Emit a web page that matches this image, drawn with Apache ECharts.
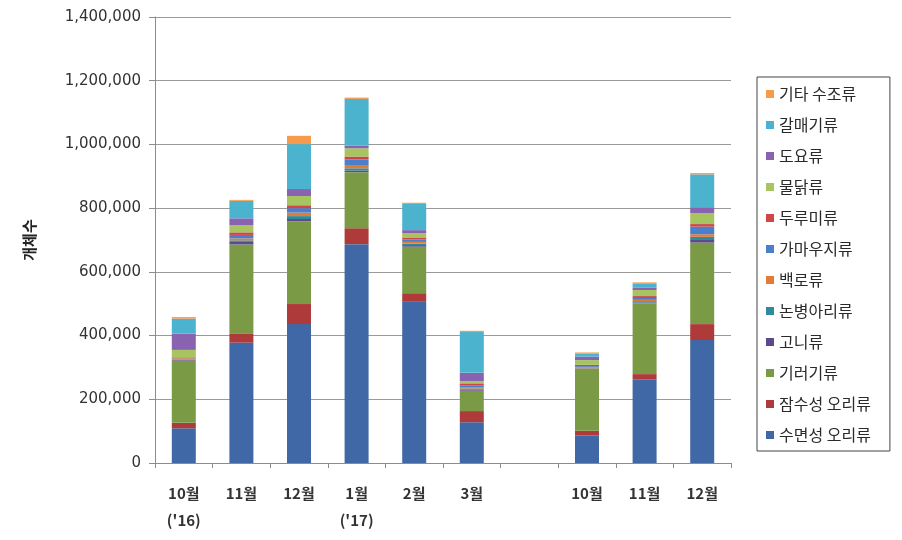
<!DOCTYPE html>
<html>
<head>
<meta charset="utf-8">
<script src="https://cdn.jsdelivr.net/npm/echarts@6/dist/echarts.min.js"></script>
<style>
  html, body { margin: 0; padding: 0; background: #fff; }
  #chart { width: 902px; height: 540px; }
</style>
</head>
<body>
<div id="chart"></div>
<script>
// 월별 물새 개체수 — 누적 막대
const categories = ["10월\n('16)", '11월', '12월', "1월\n('17)", '2월', '3월', '', '10월', '11월', '12월']
const yTicks = [0, 200000, 400000, 600000, 800000, 1000000, 1200000, 1400000]

// 아래에서 위로 쌓이는 순서
const seriesNames = ['수면성 오리류', '잠수성 오리류', '기러기류', '고니류', '논병아리류', '백로류',
  '가마우지류', '두루미류', '물닭류', '도요류', '갈매기류', '기타 수조류']

const dabbling  = [109000, 378000, 436000, 687000, 506000, 128000, '-', 86000, 263000, 386000]
const diving    = [17000, 29000, 63000, 50000, 27000, 35000, '-', 15000, 16000, 50000]
const geese     = [195000, 279000, 260000, 176000, 146000, 64000, '-', 191000, 222000, 256000]
const swans     = [2000, 8000, 7000, 5000, 5000, 3000, '-', 2000, 3000, 8000]
const grebes    = [2000, 5000, 9000, 7000, 5000, 4000, '-', 3000, 4000, 10000]
const herons    = [4000, 6000, 11000, 8000, 5000, 4000, '-', 3000, 4000, 8000]
const cormorants = [2000, 11000, 14000, 20000, 8000, 6000, '-', 4000, 6000, 24000]
const cranes    = [1000, 8000, 9000, 9000, 6000, 6000, '-', 4000, 6000, 8000]
const coots     = [23000, 22000, 29000, 26000, 13000, 7000, '-', 15000, 19000, 34000]
const shorebirds = [51000, 22000, 22000, 8000, 10000, 26000, '-', 11000, 8000, 19000]
const gulls     = [47000, 55000, 141000, 147000, 82000, 128000, '-', 10000, 13000, 103000]
const others    = [5000, 3000, 26000, 4000, 4000, 4000, '-', 3000, 3000, 4000]

const seriesValues = [dabbling, diving, geese, swans, grebes, herons,
  cormorants, cranes, coots, shorebirds, gulls, others]

const colors = ['#4168A6', '#AE3B3A', '#7A9A45', '#5E4A8A', '#2F8A9E', '#E07D35',
  '#4C7FCB', '#D04548', '#A6C560', '#8A63B0', '#4BB3CE', '#F89A4C']

const chart = echarts.init(document.getElementById('chart'))

const option = {
  animation: false,
  color: colors,
  grid: {
    left: 155,
    right: 171,
    top: 17,
    bottom: 77
  },
  legend: {
    orient: 'vertical',
    left: 757,
    top: 77,
    // 범례는 위에서부터 기타 수조류 → 수면성 오리류
    data: seriesNames.slice().reverse(),
    icon: 'rect',
    itemWidth: 8,
    itemHeight: 8,
    itemGap: 15,
    padding: [9, 19, 8, 9],
    borderColor: '#444',
    borderWidth: 1,
    textStyle: {
      fontFamily: 'Noto Sans CJK KR',
      fontSize: 16,
      color: '#2a2a2a'
    }
  },
  xAxis: {
    type: 'category',
    data: categories,
    axisLine: { lineStyle: { color: '#8c8c8c', width: 1 } },
    axisTick: { show: true, length: 5, lineStyle: { color: '#8c8c8c' } },
    axisLabel: {
      interval: 0,
      margin: 17,
      lineHeight: 27,
      fontFamily: 'Noto Sans CJK KR',
      fontWeight: 'bold',
      fontSize: 15,
      color: '#333'
    }
  },
  yAxis: {
    type: 'value',
    min: 0,
    max: 1400000,
    interval: 200000,
    name: '개체수',
    nameLocation: 'middle',
    nameRotate: 90,
    nameGap: 118,
    nameTextStyle: {
      fontFamily: 'Noto Sans CJK KR',
      fontWeight: 'bold',
      fontSize: 15,
      color: '#222'
    },
    axisLine: { show: true, lineStyle: { color: '#8c8c8c' } },
    axisTick: { show: true, length: 6, lineStyle: { color: '#8c8c8c' } },
    splitLine: { lineStyle: { color: '#9a9a9a', width: 1 } },
    axisLabel: {
      margin: 14,
      fontFamily: 'DejaVu Sans',
      fontSize: 15,
      color: '#333',
      formatter: function (v) {
        return yTicks.indexOf(v) >= 0 ? v.toLocaleString('en-US') : ''
      }
    }
  },
  series: seriesNames.map(function (name, i) {
    return {
      name: name,
      type: 'bar',
      stack: 'total',
      barWidth: 24,
      data: seriesValues[i]
    }
  })
}

chart.setOption(option)
</script>
</body>
</html>
